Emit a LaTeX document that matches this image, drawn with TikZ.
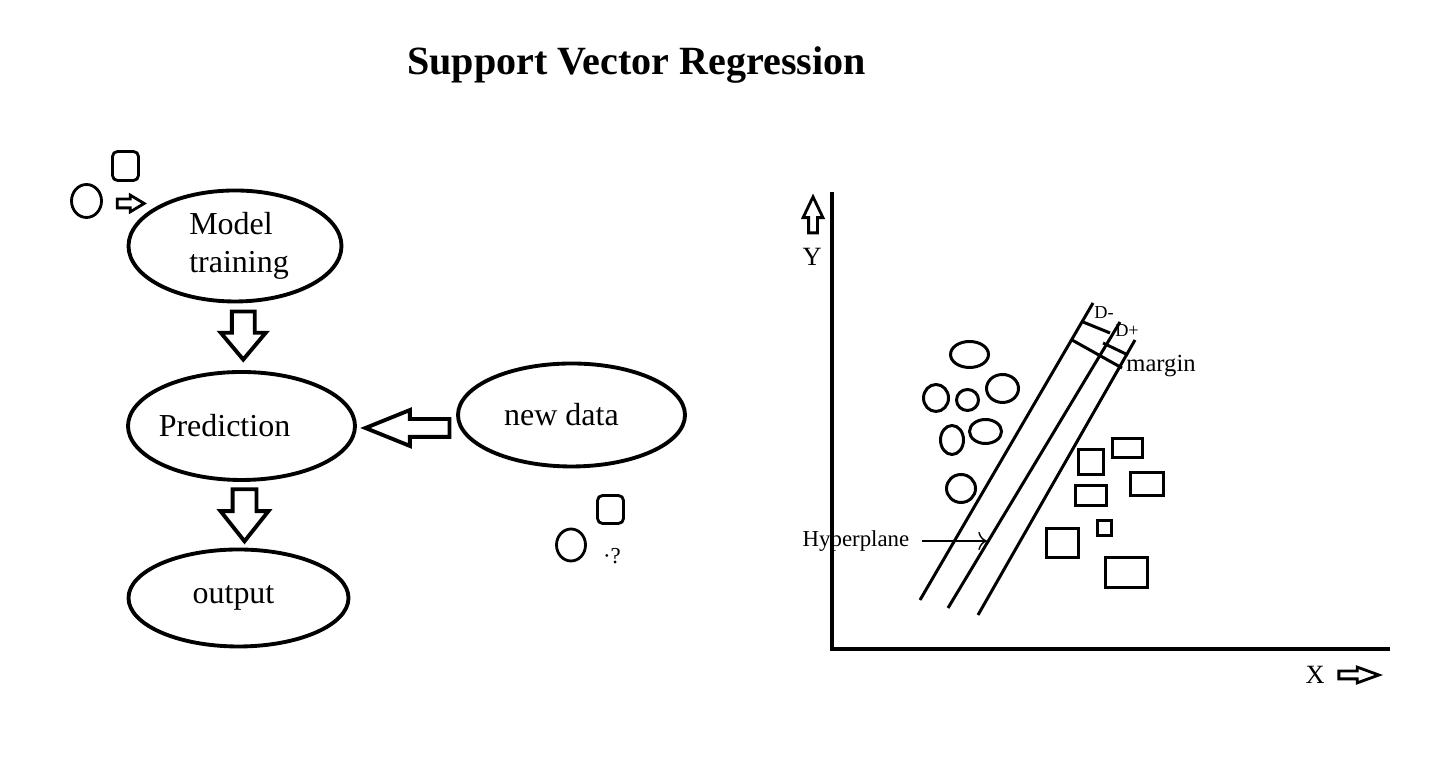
\documentclass[tikz,border=0pt]{standalone}
\usepackage{fontspec}
\setmainfont{Liberation Serif}
\usetikzlibrary{arrows, arrows.meta, shapes.geometric, shapes.arrows, positioning, calc}

\tikzset{
  stage/.style={draw, ellipse, line width=1.1pt, inner sep=0pt, align=center,
    font=\fontsize{9.1}{10.8}\selectfont},
  blockarrow/.style={draw, single arrow, line width=1.1pt, single arrow head indent=0pt},
  token/.style={draw, line width=0.8pt, inner sep=0pt},
  dot/.style={draw, ellipse, line width=0.85pt},
  box/.style={draw, line width=0.85pt},
}

\begin{document}
\begin{tikzpicture}
\useasboundingbox (0,0) rectangle (14.33,7.69);
\node[font=\fontsize{11.4}{13}\selectfont\bfseries] (title) at (6.365,7.04) {Support Vector Regression};

% flow on the left
\node[stage, align=left, minimum width=2.13cm, minimum height=1.11cm] (mt) at (2.35,5.23) {\hspace*{0.08cm}Model\\\hspace*{0.08cm}training};
\node[stage, minimum width=2.27cm, minimum height=1.08cm] (pr) at (2.415,3.43) {\hspace*{-0.34cm}Prediction};
\node[stage, minimum width=2.20cm, minimum height=0.97cm] (out) at (2.385,1.71) {\hspace*{-0.1cm}output};
\node[stage, minimum width=2.27cm, minimum height=1.03cm] (nd) at (5.715,3.54) {\hspace*{-0.2cm}new data};

\node[blockarrow, shape border rotate=270, inner sep=0.095cm, single arrow head extend=0.11cm,
  minimum height=0.48cm, single arrow tip angle=80] (da1) at ($(mt.south)!0.5!(pr.north)+(0.05,0.08)$) {};
\node[blockarrow, shape border rotate=270, inner sep=0.10cm, single arrow head extend=0.12cm,
  minimum height=0.52cm, single arrow tip angle=77] (da2) at ($(pr.south)!0.5!(out.north)+(0.045,0.07)$) {};
\node[blockarrow, shape border rotate=180, inner sep=0.07cm, single arrow head extend=0.09cm,
  minimum height=0.84cm, single arrow tip angle=44] (la) at ($(pr.east)!0.5!(nd.west)+(0.12,-0.075)$) {};

% input and new sample
\node[token, ellipse, minimum width=0.30cm, minimum height=0.33cm] (c1) at (0.865,5.68) {};
\node[token, rounded corners=0.05cm, minimum width=0.26cm, minimum height=0.29cm] (s1) at (1.255,6.03) {};
\node[blockarrow, line width=0.8pt, inner sep=0.03cm, single arrow head extend=0.04cm,
  minimum height=0.27cm, single arrow tip angle=62] (a0) at (1.27,5.655) {};
\node[token, ellipse, minimum width=0.29cm, minimum height=0.32cm] (c2) at (5.71,2.24) {};
\node[token, rounded corners=0.05cm, minimum width=0.26cm, minimum height=0.28cm] (s2) at (6.105,2.595) {};
\node[font=\fontsize{6.5}{8}\selectfont] (q) at (6.12,2.13) {·?};

% axes
\draw[line width=1.1pt] (8.32,5.77) -- (8.32,1.20) -- (13.90,1.20);
\node[blockarrow, line width=0.8pt, shape border rotate=90, inner sep=0.03cm, single arrow head extend=0.055cm,
  minimum height=0.36cm, single arrow tip angle=51] (ya) at (8.13,5.495) {};
\node[font=\fontsize{7.5}{9}\selectfont] (ylab) at (8.12,5.12) {Y};
\node[blockarrow, line width=0.8pt, inner sep=0.025cm, single arrow head extend=0.04cm,
  minimum height=0.40cm, single arrow tip angle=40] (xa) at (13.535,0.94) {};
\node[font=\fontsize{7.5}{9}\selectfont] (xlab) at (13.15,0.94) {X};

% hyperplane and margin
\draw[line width=0.85pt] (9.20,1.69) -- (10.93,4.66);
\draw[line width=0.85pt] (9.48,1.61) -- (11.20,4.47);
\draw[line width=0.85pt] (9.78,1.54) -- (11.35,4.29);
\draw[line width=0.85pt] (10.83,4.47) -- (11.10,4.36);
\draw[line width=0.85pt] (11.03,4.26) -- (11.28,4.14);
\draw[line width=0.85pt] (10.72,4.29) -- (11.22,4.01);
\node[font=\fontsize{5.2}{6}\selectfont] (dm) at (11.04,4.56) {D-};
\node[font=\fontsize{5.2}{6}\selectfont] (dp) at (11.27,4.38) {D+};
\node[font=\fontsize{7}{8}\selectfont] (mg) at (11.61,4.03) {margin};
\node[font=\fontsize{6.5}{8}\selectfont] (hp) at (8.56,2.28) {Hyperplane};
\coordinate (hpend) at (9.87,2.28);
\draw[thin,->] (hp.east) -- (hpend);

% one class
\draw[dot] (9.695,4.145) ellipse (0.19 and 0.13);
\draw[dot] (9.36,3.71) ellipse (0.125 and 0.135);
\draw[dot] (9.675,3.69) ellipse (0.11 and 0.105);
\draw[dot] (10.025,3.805) ellipse (0.16 and 0.14);
\draw[dot] (9.52,3.29) ellipse (0.115 and 0.145);
\draw[dot] (9.855,3.375) ellipse (0.16 and 0.12);
\draw[dot] (9.61,2.805) ellipse (0.145 and 0.14);

% other class
\draw[box] (10.785,3.195) rectangle (11.035,2.945);
\draw[box] (11.125,3.305) rectangle (11.425,3.115);
\draw[box] (11.305,2.965) rectangle (11.635,2.735);
\draw[box] (10.755,2.835) rectangle (11.065,2.635);
\draw[box] (10.975,2.485) rectangle (11.115,2.335);
\draw[box] (10.465,2.405) rectangle (10.785,2.115);
\draw[box] (11.055,2.115) rectangle (11.475,1.815);
\end{tikzpicture}
\end{document}
